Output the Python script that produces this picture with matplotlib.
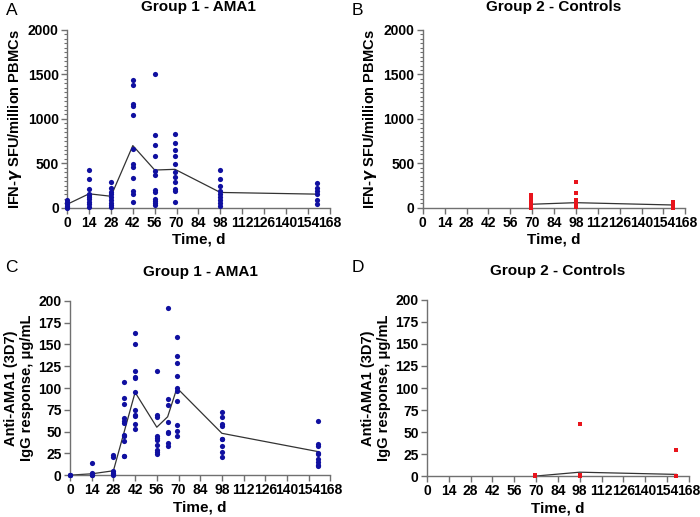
import matplotlib
matplotlib.use('Agg')
import matplotlib.pyplot as plt
from matplotlib.ticker import MultipleLocator
import numpy as np

plt.rcParams['font.family'] = ['Liberation Sans', 'DejaVu Sans']
plt.rcParams['font.weight'] = 'bold'
plt.rcParams['mathtext.fontset'] = 'dejavusans'

# ---- data ----
# panel A: IFN-gamma ELISpot, group 1 (AMA1)
ifn_g1 = {
    0: [87, 60, 40, 20, 8, 0],
    14: [430, 320, 210, 160, 140, 120, 100, 70, 40, 10],
    28: [294, 218, 181, 151, 117, 87, 56, 30, 11],
    42: [1435, 1382, 1171, 1149, 1047, 663, 490, 463, 331, 192, 151, 60],
    56: [1510, 821, 712, 580, 414, 369, 200, 173, 94, 72, 49, 30],
    69: [832, 727, 652, 584, 493, 399, 343, 294, 211, 192, 60],
    98: [429, 320, 249, 192, 151, 117, 87, 49, 19],
    160: [282, 226, 192, 151, 87, 38],
}
ifn_g1_line_x = [0, 14, 28, 42, 56, 69, 98, 160]
ifn_g1_line_y = [40, 158, 130, 700, 425, 433, 173, 154]

# panel B: IFN-gamma ELISpot, group 2 (controls)
ifn_g2 = {
    69: [143, 120, 100, 80, 60, 40, 25, 10, 0],
    98: [294, 162, 87, 56, 30, 11],
    160: [68, 49, 30, 11, 0],
}
ifn_g2_line_x = [69, 98, 160]
ifn_g2_line_y = [40, 58, 32]

# panel C: anti-AMA1 IgG, group 1
igg_g1 = {
    0: [0, 0, 0],
    14: [14, 2, 1, 0, 0],
    28: [23, 21, 5, 3, 1, 0],
    35: [107, 89, 82, 65, 62, 60, 46.5, 45, 39, 22.5, 22],
    42: [163, 150, 120, 113, 112, 95, 75, 69, 68, 59, 53],
    56: [120, 69, 67, 45, 43, 40, 35, 29, 27, 24],
    63: [192, 87, 81, 61, 50, 48, 37, 34],
    69: [159, 137, 129, 114, 100, 96, 85, 58, 51, 45],
    98: [73, 67, 59, 56, 42, 41, 34, 27, 21],
    160: [62.5, 36, 34, 25.5, 24, 18, 15, 12, 10],
}
igg_g1_line_x = [0, 14, 28, 42, 56, 63, 69, 98, 160]
igg_g1_line_y = [0, 1.5, 5, 95, 55, 67, 100, 48, 27]

# panel D: anti-AMA1 IgG, group 2
igg_g2 = {
    69: [1.5, 0.5, 0],
    98: [59, 1, 0],
    160: [29.5, 0.5, 0],
}
igg_g2_line_x = [69, 98, 160]
igg_g2_line_y = [0, 4.5, 2]

xticks = np.arange(0, 169, 14)

blue = '#1010a0'
red = '#e8141c'
axcol = '#707070'

fig = plt.figure(figsize=(7, 5.17), dpi=100)


def setup(ax, ymax, ymajor, yminor, ylabel, title, tpad):
    ax.set_xlim(0, 168)
    ax.set_ylim(0, ymax)
    ax.set_xticks(xticks)
    ax.yaxis.set_major_locator(MultipleLocator(ymajor))
    if yminor:
        ax.yaxis.set_minor_locator(MultipleLocator(yminor))
    for s in ['top', 'right']:
        ax.spines[s].set_visible(False)
    for s in ['left', 'bottom']:
        ax.spines[s].set_color(axcol)
        ax.spines[s].set_linewidth(1.0)
    ax.tick_params(axis='both', which='major', colors=axcol, length=4, width=1,
                   labelcolor='black', labelsize=10, pad=2)
    ax.tick_params(axis='y', which='minor', colors=axcol, length=2, width=0.8)
    ax.set_xlabel('Time, d', fontsize=11, fontweight='bold', labelpad=2)
    ax.set_ylabel(ylabel, fontsize=10.5, fontweight='bold', labelpad=3)
    ax.set_title(title, fontsize=11, fontweight='bold', pad=tpad)


def scatter(ax, groups, color, marker, size):
    for day, vals in groups.items():
        ax.scatter([day] * len(vals), vals, s=size, c=color, marker=marker,
                   linewidths=0, zorder=3, clip_on=False)


ifn_label = 'IFN-$\\gamma$ SFU/million PBMCs'
igg_label = 'Anti-AMA1 (3D7)\nIgG response, \u03bcg/mL'

# A
axA = fig.add_axes([0.096, 0.598, 0.375, 0.344])
setup(axA, 2000, 500, 50, ifn_label, 'Group 1 - AMA1', 14)
axA.plot(ifn_g1_line_x, ifn_g1_line_y, color='#333333', lw=0.9, zorder=2)
scatter(axA, ifn_g1, blue, 'o', 14)

# B
axB = fig.add_axes([0.604, 0.598, 0.375, 0.344])
setup(axB, 2000, 500, 50, ifn_label, 'Group 2 - Controls', 14)
axB.plot(ifn_g2_line_x, ifn_g2_line_y, color='#333333', lw=0.9, zorder=2)
scatter(axB, ifn_g2, red, 's', 9)

# C
axC = fig.add_axes([0.100, 0.081, 0.372, 0.337])
setup(axC, 200, 25, None, igg_label, 'Group 1 - AMA1', 18)
axC.plot(igg_g1_line_x, igg_g1_line_y, color='#333333', lw=0.9, zorder=2)
scatter(axC, igg_g1, blue, 'o', 14)

# D
axD = fig.add_axes([0.610, 0.079, 0.374, 0.341])
setup(axD, 200, 25, None, igg_label, 'Group 2 - Controls', 18)
axD.plot(igg_g2_line_x, igg_g2_line_y, color='#333333', lw=0.9, zorder=2)
scatter(axD, igg_g2, red, 's', 9)

# panel letters
for x, y, t in [(0.008, 0.980, 'A'), (0.503, 0.980, 'B'),
                (0.008, 0.482, 'C'), (0.503, 0.482, 'D')]:
    fig.text(x, y, t, fontsize=12.5, fontweight='normal', ha='left', va='center')

fig.savefig('out.png', dpi=100)
